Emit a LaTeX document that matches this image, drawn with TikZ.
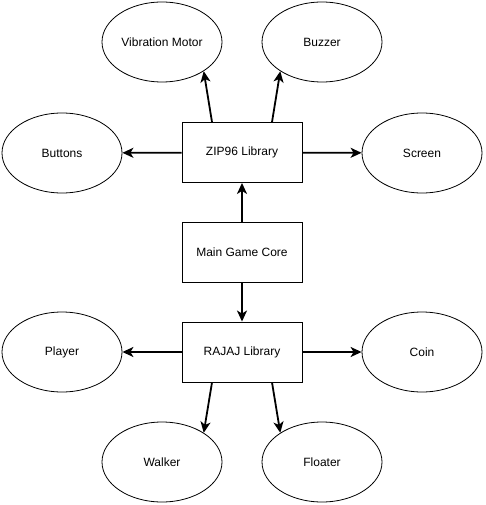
\documentclass[tikz,border=0pt]{standalone}
\usepackage{fontspec}
\setmainfont{Liberation Sans}
\usetikzlibrary{arrows.meta,shapes.geometric}

\begin{document}
\begin{tikzpicture}[> = {Stealth[length=11pt,width=10pt,inset=3pt]}, x = 1pt, y = -1pt,
    font = \fontsize{12}{14}\selectfont,
    lib/.style = {draw, line width=0.9pt, minimum width=120pt, minimum height=60pt, inner sep=0pt},
    part/.style = {draw, ellipse, line width=0.8pt, minimum width=120pt, minimum height=80pt, inner sep=0pt},
    link/.style = {->, line width=1.8pt}]
    \useasboundingbox (0,0) rectangle (485,505);
    \node[lib] (zip) at (242,152.5) {ZIP96 Library};
    \node[lib] (core) at (242,252) {Main Game Core};
    \node[lib] (rajaj) at (242,352) {RAJAJ Library};
    \node[part] (vib) at (162,42) {Vibration Motor};
    \node[part] (buzz) at (322,42) {Buzzer};
    \node[part] (btn) at (62,153) {Buttons};
    \node[part] (scr) at (422,153) {Screen};
    \node[part] (ply) at (62,352) {Player};
    \node[part] (coin) at (422,352) {Coin};
    \node[part] (walk) at (162,462) {Walker};
    \node[part] (float) at (322,462) {Floater};
    \draw [link] (core) -- (zip);
    \draw [link] (core) -- (rajaj);
    \draw [link] ([xshift=-30pt]zip.north) -- (vib.-35);
    \draw [link] ([xshift=30pt]zip.north) -- (buzz.-145);
    \draw [link] (zip) -- (btn);
    \draw [link] (zip) -- (scr);
    \draw [link] (rajaj) -- (ply);
    \draw [link] (rajaj) -- (coin);
    \draw [link] ([xshift=-30pt]rajaj.south) -- (walk.35);
    \draw [link] ([xshift=30pt]rajaj.south) -- (float.145);
\end{tikzpicture}
\end{document}
